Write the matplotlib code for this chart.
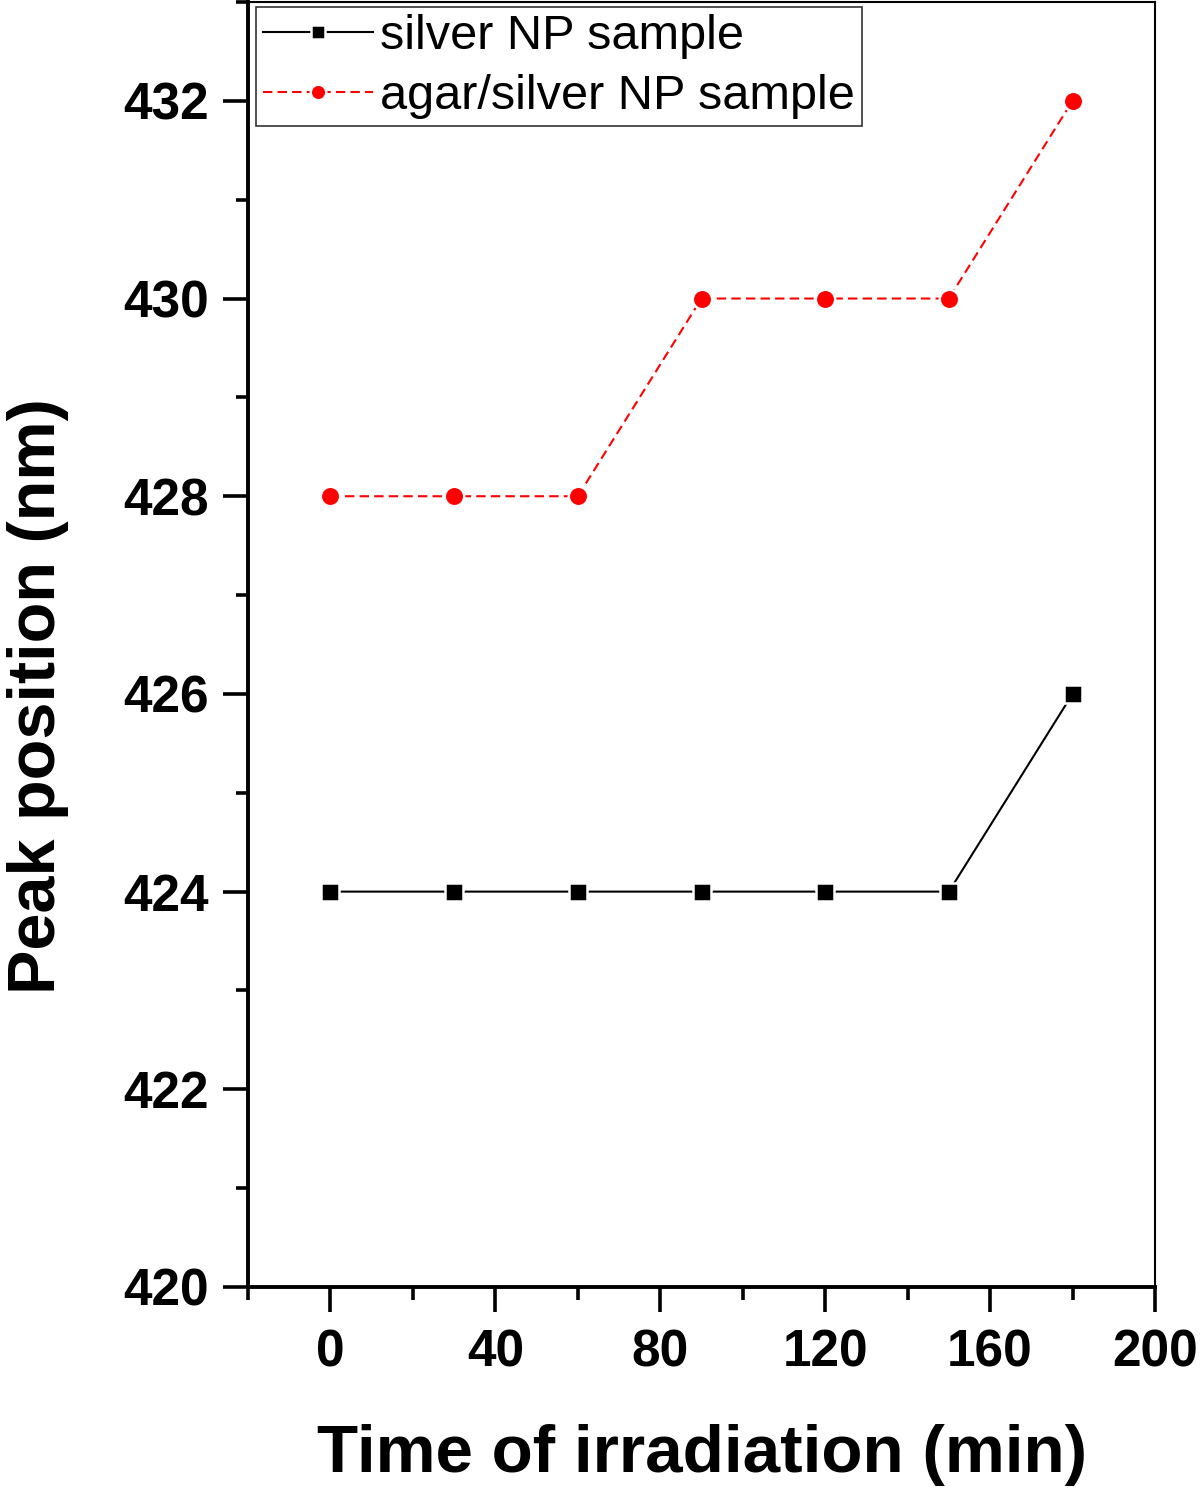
import matplotlib.pyplot as plt
from matplotlib.ticker import MultipleLocator

# data
time_min = [0, 30, 60, 90, 120, 150, 180]
silver_np = [424, 424, 424, 424, 424, 424, 426]
agar_silver_np = [428, 428, 428, 430, 430, 430, 432]

plt.rcParams['font.family'] = ['Liberation Sans', 'DejaVu Sans']

fig = plt.figure(figsize=(12, 14.91), dpi=100)
ax = fig.add_axes([248 / 1200, 204 / 1491, 907 / 1200, 1285 / 1491])

ax.plot(time_min, silver_np, color='black', linewidth=1.5, marker='s',
        markersize=12.6, markerfacecolor='black', markeredgecolor='white',
        markeredgewidth=1.8, label='silver NP sample')
ax.plot(time_min, agar_silver_np, color='red', linewidth=1.5, linestyle=(0, (4.5, 2.5)),
        marker='o', markersize=14, markerfacecolor='red', markeredgecolor='white',
        markeredgewidth=1.8, label='agar/silver NP sample')

ax.set_xlim(-20, 200)
ax.set_ylim(420, 433)
ax.xaxis.set_major_locator(MultipleLocator(40))
ax.xaxis.set_minor_locator(MultipleLocator(20))
ax.yaxis.set_major_locator(MultipleLocator(2))
ax.yaxis.set_minor_locator(MultipleLocator(1))

ax.tick_params(axis='both', which='major', direction='out', length=18, width=2.6,
               labelsize=37, top=False, right=False)
ax.tick_params(axis='both', which='minor', direction='out', length=9, width=2.6,
               top=False, right=False)
ax.tick_params(axis='x', which='major', pad=12)
ax.tick_params(axis='y', which='major', pad=10)
for lab in ax.get_xticklabels() + ax.get_yticklabels():
    lab.set_fontweight('bold')

ax.spines['left'].set_linewidth(2.8)
ax.spines['bottom'].set_linewidth(2.8)
ax.spines['right'].set_linewidth(1.5)
ax.spines['top'].set_linewidth(1.5)

fig.text(702 / 1200, 1 - 1455 / 1491, 'Time of irradiation (min)', fontsize=48.5,
         fontweight='bold', ha='center', va='center')
fig.text(38 / 1200, 1 - 696 / 1491, 'Peak position (nm)', fontsize=48,
         fontweight='bold', ha='center', va='center', rotation=90)

leg = ax.legend(loc='upper left', bbox_to_anchor=(0.0088, 0.996), borderaxespad=0,
                fontsize=35, frameon=True, fancybox=False, edgecolor='black',
                handlelength=2.25, handletextpad=0.15, labelspacing=0.3,
                borderpad=0.15, numpoints=1, markerscale=0.8)
leg.get_frame().set_linewidth(1.2)

fig.savefig('out.png', dpi=100)
